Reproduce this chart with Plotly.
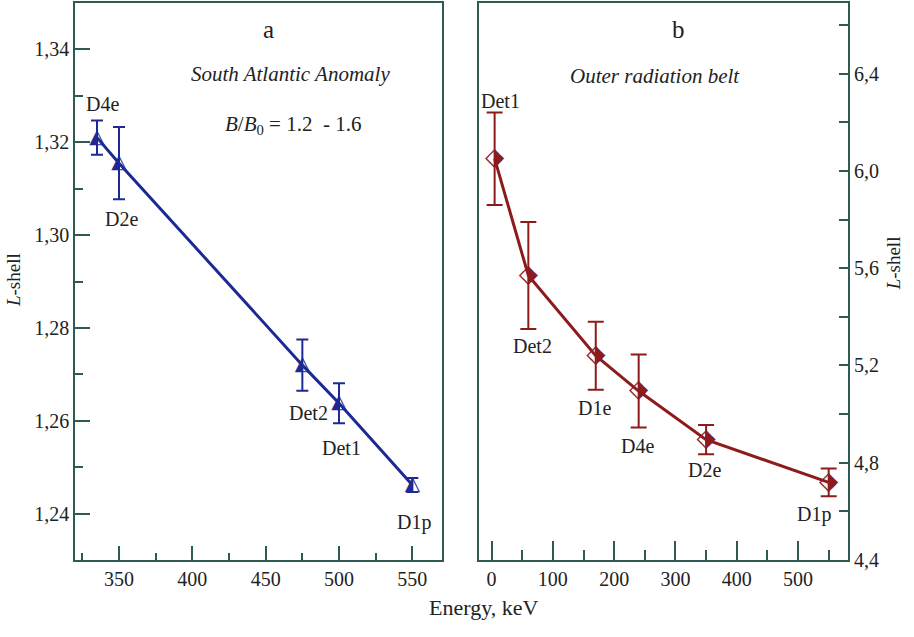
import plotly.graph_objects as go

# ---- Data: panel a (South Atlantic Anomaly) ----
a_labels = ["D4e", "D2e", "Det2", "Det1", "D1p"]
a_energy = [335, 350, 475, 500, 550]
a_lshell = [1.321, 1.3155, 1.272, 1.2638, 1.2462]
a_err = [0.0037, 0.0078, 0.0055, 0.0043, 0.0015]

# ---- Data: panel b (Outer radiation belt) ----
b_labels = ["Det1", "Det2", "D1e", "D4e", "D2e", "D1p"]
b_energy = [5, 60, 170, 240, 350, 550]
b_lshell = [6.05, 5.57, 5.24, 5.095, 4.895, 4.72]
b_err = [0.19, 0.22, 0.14, 0.15, 0.06, 0.057]

W, H = 914, 637
BLUE = "#1b2a94"
RED = "#8e1b1b"
FRAME = "#2f5a54"
TXT = "#222222"
SERIF = "Liberation Serif, Times New Roman, serif"

def px(x):
    return x / W

def py(y):
    return 1 - y / H

fig = go.Figure()

# panel a line + error bars
fig.add_trace(go.Scatter(
    x=a_energy, y=a_lshell, mode="lines", xaxis="x", yaxis="y",
    line=dict(color=BLUE, width=3),
    error_y=dict(type="data", array=a_err, color=BLUE, thickness=2, width=6),
    showlegend=False, hoverinfo="skip"))
fig.add_trace(go.Scatter(
    x=a_energy, y=a_lshell, mode="text", xaxis="x", yaxis="y",
    text=["\u25ED"] * len(a_energy), textposition="middle center",
    textfont=dict(family="DejaVu Sans", size=20, color=BLUE),
    showlegend=False, hoverinfo="skip"))

# panel b line + error bars
fig.add_trace(go.Scatter(
    x=b_energy, y=b_lshell, mode="lines", xaxis="x2", yaxis="y2",
    line=dict(color=RED, width=3),
    error_y=dict(type="data", array=b_err, color=RED, thickness=2, width=8),
    showlegend=False, hoverinfo="skip"))
fig.add_trace(go.Scatter(
    x=b_energy, y=b_lshell, mode="text", xaxis="x2", yaxis="y2",
    text=["\u2B17"] * len(b_energy), textposition="middle center",
    textfont=dict(family="DejaVu Sans", size=25, color=RED),
    showlegend=False, hoverinfo="skip"))

axis_common = dict(showline=True, linecolor=FRAME, linewidth=1.5, mirror=True,
                   ticks="inside", tickcolor=FRAME, tickwidth=1.5,
                   showgrid=False, zeroline=False,
                   tickfont=dict(family=SERIF, size=20, color=TXT))

fig.update_layout(
    width=W, height=H,
    margin=dict(l=0, r=0, t=0, b=0),
    paper_bgcolor="white", plot_bgcolor="white",
    separators=",.",
    showlegend=False,
    font=dict(family=SERIF, color=TXT),
    xaxis=dict(domain=[px(75), px(441.7)], range=[320, 570], anchor="y",
               dtick=50, tick0=0, ticklen=14,
               minor=dict(dtick=25, tick0=0, ticklen=7, ticks="inside",
                          tickcolor=FRAME, tickwidth=1.5),
               **axis_common),
    yaxis=dict(domain=[py(570), py(3)], range=[1.23, 1.35], anchor="x",
               dtick=0.02, tick0=0, ticklen=15, tickformat=".2f",
               minor=dict(dtick=0.01, tick0=0, ticklen=8, ticks="inside",
                          tickcolor=FRAME, tickwidth=1.5),
               **axis_common),
    xaxis2=dict(domain=[px(479.3), px(848.3)], range=[-20, 582], anchor="y2",
                dtick=100, tick0=0, ticklen=19,
                minor=dict(dtick=50, tick0=0, ticklen=10, ticks="inside",
                           tickcolor=FRAME, tickwidth=1.5),
                **axis_common),
    yaxis2=dict(domain=[py(570), py(3)], range=[4.4, 6.69], anchor="x2",
                side="right", dtick=0.4, tick0=4.4, ticklen=10, tickformat=".1f",
                minor=dict(dtick=0.2, tick0=4.4, ticklen=10, ticks="inside",
                           tickcolor=FRAME, tickwidth=1.5),
                **axis_common),
)

# point labels
a_shift = [(5, 34), (2, -56), (6, -48), (2, -45), (2, -38)]
for lab, xv, yv, (dx, dy) in zip(a_labels, a_energy, a_lshell, a_shift):
    fig.add_annotation(x=xv, y=yv, xref="x", yref="y", text=lab, showarrow=False,
                       xshift=dx, yshift=dy,
                       font=dict(family=SERIF, size=20, color=TXT))

b_shift = [(6, 58), (4, -71), (-1, -52), (-1, -55), (-2, -30), (-15, -32)]
for lab, xv, yv, (dx, dy) in zip(b_labels, b_energy, b_lshell, b_shift):
    fig.add_annotation(x=xv, y=yv, xref="x2", yref="y2", text=lab, showarrow=False,
                       xshift=dx, yshift=dy,
                       font=dict(family=SERIF, size=20, color=TXT))

def note(x, y, text, size=16, angle=0):
    fig.add_annotation(x=px(x), y=py(y), xref="paper", yref="paper", text=text,
                       showarrow=False, textangle=angle, xanchor="center", yanchor="middle",
                       font=dict(family=SERIF, size=size, color=TXT))

note(268, 30, "a", size=25)
note(290, 75, "<i>South Atlantic Anomaly</i>", size=21)
note(293, 127, "<i>B</i>/<i>B</i><sub>0</sub> = 1.2  - 1.6", size=21)
note(678, 30, "b", size=25)
note(655, 77, "<i>Outer radiation belt</i>", size=21)
note(13, 285, "<i>L</i>-shell", size=19, angle=-90)
note(893, 268, "<i>L</i>-shell", size=19, angle=-90)
note(483, 618, "Energy, keV", size=22)

fig.write_html(
    "out.html",
    config={"displayModeBar": False},
    post_script=["document.body.style.margin='0';document.body.style.overflow='hidden';"],
)
